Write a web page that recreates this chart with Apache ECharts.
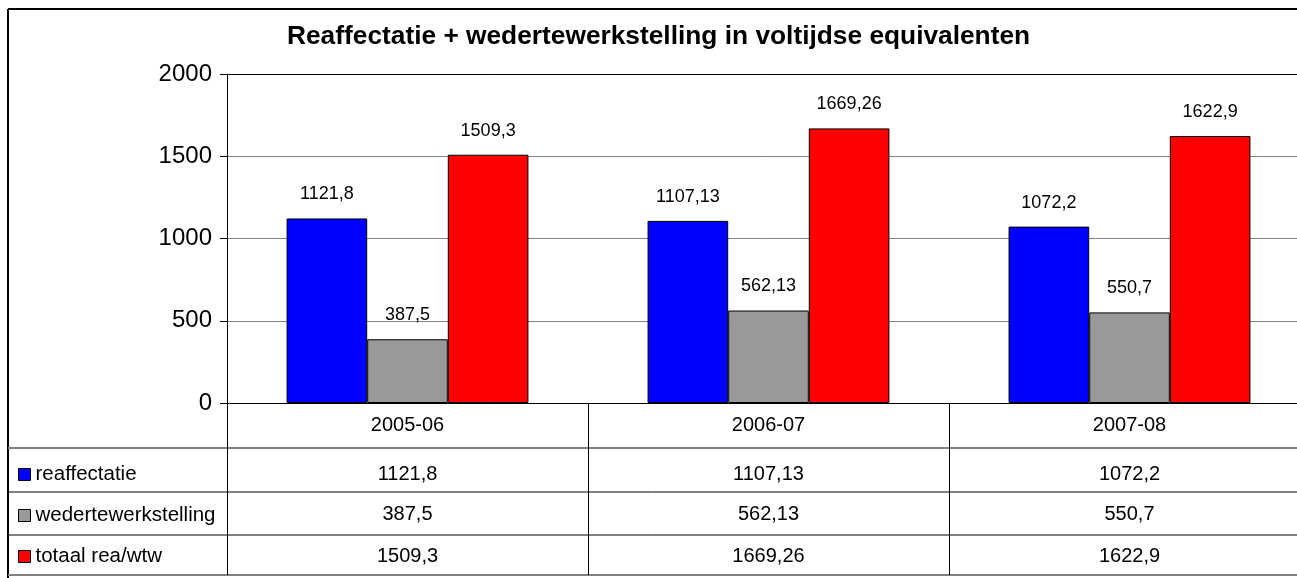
<!DOCTYPE html>
<html>
<head>
<meta charset="utf-8">
<script src="https://cdn.jsdelivr.net/npm/echarts@6/dist/echarts.min.js"></script>
<style>
  html, body { margin: 0; padding: 0; background: #fff; }
  #myCharts { width: 1297px; height: 578px; }
</style>
</head>
<body>
<div id="myCharts"></div>
<script>
// data
const categories = ["2005-06", "2006-07", "2007-08"];
const reaffectatie = [1121.8, 1107.13, 1072.2];
const wedertewerkstelling = [387.5, 562.13, 550.7];
const totaal = [1509.3, 1669.26, 1622.9];
const seriesNames = ["reaffectatie", "wedertewerkstelling", "totaal rea/wtw"];
const yTicks = [0, 500, 1000, 1500, 2000];

const font = "'Liberation Sans', Arial, sans-serif";
// komma als decimaalteken
const fmt = v => String(v).replace(".", ",");

const myCharts = echarts.init(document.getElementById("myCharts"));

// rijen van de datatabel als extra x-assen
function tableAxis(values, offset) {
  return {
    type: "category",
    gridIndex: 0,
    position: "bottom",
    offset: offset,
    data: values.map(fmt),
    axisLine: { show: false },
    axisTick: { show: false },
    axisLabel: { color: "#000", fontSize: 20, fontFamily: font, margin: 12 }
  };
}

function barSeries(name, data, color) {
  return {
    name: name,
    type: "bar",
    xAxisIndex: 0,
    data: data,
    barGap: "0%",
    barCategoryGap: "33%",
    itemStyle: { color: color, borderColor: "#000", borderWidth: 1 },
    label: {
      show: true,
      position: "top",
      distance: 15,
      color: "#000",
      fontSize: 18,
      fontFamily: font,
      formatter: p => fmt(p.value)
    }
  };
}

const hLine = (y, color, w) => ({
  type: "line",
  shape: { x1: 8, y1: y, x2: 1297, y2: y },
  style: { stroke: color, lineWidth: w }
});

let option = {
  backgroundColor: "#fff",
  animation: false,
  title: {
    text: "Reaffectatie + wedertewerkstelling in voltijdse equivalenten",
    left: 287,
    top: 24,
    padding: 0,
    textStyle: { color: "#000", fontSize: 26.3, fontWeight: "bold", fontFamily: font }
  },
  legend: {
    orient: "vertical",
    left: 18,
    top: 464,
    padding: 0,
    itemGap: 20,
    icon: "rect",
    itemWidth: 12,
    itemHeight: 12,
    itemStyle: { borderColor: "#000", borderWidth: 1 },
    textStyle: { color: "#000", fontSize: 20.5, fontFamily: font, padding: [0, 0, 0, 0] },
    data: seriesNames
  },
  grid: { left: 227, width: 1083, top: 74, bottom: 175, outerBoundsMode: "none" },
  xAxis: [
    {
      type: "category",
      data: categories,
      axisLine: { lineStyle: { color: "#000", width: 1 } },
      axisTick: { show: true, length: 172, lineStyle: { color: "#000" } },
      axisLabel: { color: "#000", fontSize: 20, fontFamily: font, margin: 12 }
    },
    tableAxis(reaffectatie, 49),
    tableAxis(wedertewerkstelling, 89),
    tableAxis(totaal, 131),
    {
      type: "category",
      position: "top",
      data: categories,
      axisLine: { lineStyle: { color: "#000", width: 1 } },
      axisTick: { show: false },
      axisLabel: { show: false }
    }
  ],
  yAxis: {
    type: "value",
    min: yTicks[0],
    max: yTicks[yTicks.length - 1],
    interval: 500,
    axisLine: { show: true, lineStyle: { color: "#000" } },
    axisTick: { show: true, length: 7, lineStyle: { color: "#000" } },
    axisLabel: { color: "#000", fontSize: 24, fontFamily: font, margin: 15, formatter: v => String(v) },
    splitLine: { lineStyle: { color: "#808080", width: 1 } }
  },
  series: [
    barSeries(seriesNames[0], reaffectatie, "#0000FF"),
    barSeries(seriesNames[1], wedertewerkstelling, "#999999"),
    barSeries(seriesNames[2], totaal, "#FF0000")
  ],
  graphic: [
    // kader en tabellijnen
    hLine(9, "#000", 2),
    { type: "line", shape: { x1: 8, y1: 9, x2: 8, y2: 578 }, style: { stroke: "#000", lineWidth: 2 } },
    hLine(448, "#808080", 2),
    hLine(492, "#000", 1),
    hLine(535, "#000", 1),
    hLine(575, "#808080", 2)
  ]
};
myCharts.setOption(option);
</script>
</body>
</html>
